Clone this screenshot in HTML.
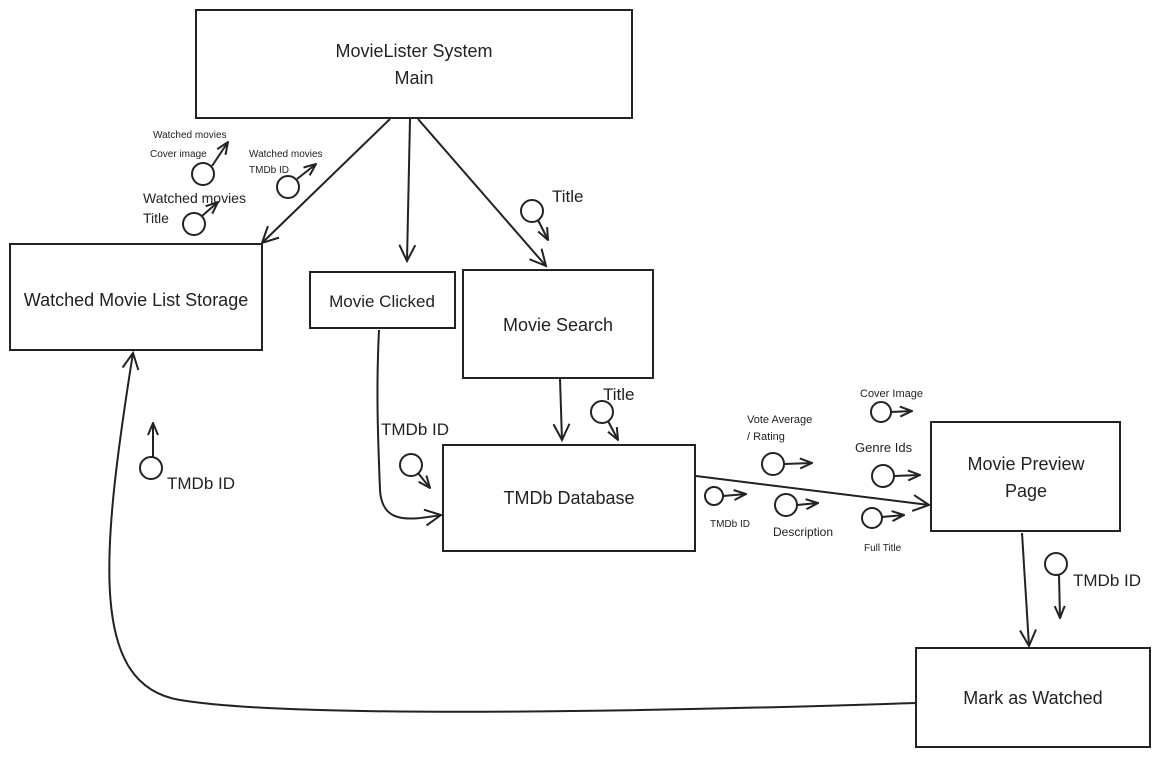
<!DOCTYPE html>
<html><head><meta charset="utf-8"><style>
html,body{margin:0;padding:0;background:#fff;}
svg{display:block;font-family:"Liberation Sans",sans-serif;}
text{fill:#222;}
</style></head><body>
<svg width="1164" height="758" viewBox="0 0 1164 758" xmlns="http://www.w3.org/2000/svg">
<defs>
<marker id="a" viewBox="0 0 20 20" refX="18" refY="10" markerWidth="20" markerHeight="20" markerUnits="userSpaceOnUse" orient="auto">
<path d="M2,2 L18,10 L2,18" fill="none" stroke="#222" stroke-width="2"/></marker>
<marker id="s" viewBox="0 0 14 14" refX="13" refY="7" markerWidth="14" markerHeight="14" markerUnits="userSpaceOnUse" orient="auto">
<path d="M1,2 L13,7 L1,12" fill="none" stroke="#222" stroke-width="2"/></marker>
</defs>
<g fill="none" stroke="#222" stroke-width="2">
<rect x="196" y="10" width="436" height="108"/>
<rect x="10" y="244" width="252" height="106"/>
<rect x="310" y="272" width="145" height="56"/>
<rect x="463" y="270" width="190" height="108"/>
<rect x="443" y="445" width="252" height="106"/>
<rect x="931" y="422" width="189" height="109"/>
<rect x="916" y="648" width="234" height="99"/>
</g>
<g fill="none" stroke="#222" stroke-width="2" marker-end="url(#a)">
<path d="M390,119 L262,243"/>
<path d="M410,119 L407,261"/>
<path d="M418,119 L546,266"/>
<path d="M560,379 L562,440"/>
<path d="M379,330 C376,390 378,440 380,490 C382,525 410,520 441,515"/>
<path d="M696,476 L929,505"/>
<path d="M1022,533 L1029,646"/>
<path d="M916,703 C700,710 300,720 180,700 C90,685 100,560 133,353"/>
</g>
<g fill="none" stroke="#222" stroke-width="2">
<circle cx="203" cy="174" r="11"/><circle cx="288" cy="187" r="11"/>
<circle cx="194" cy="224" r="11"/><circle cx="532" cy="211" r="11"/>
<circle cx="602" cy="412" r="11"/><circle cx="411" cy="465" r="11"/>
<circle cx="151" cy="468" r="11"/><circle cx="1056" cy="564" r="11"/>
<circle cx="773" cy="464" r="11"/><circle cx="714" cy="496" r="9"/>
<circle cx="786" cy="505" r="11"/><circle cx="881" cy="412" r="10"/>
<circle cx="883" cy="476" r="11"/><circle cx="872" cy="518" r="10"/>
</g>
<g fill="none" stroke="#222" stroke-width="2" marker-end="url(#s)">
<path d="M212,166 L228,142"/><path d="M297,179 L316,164"/>
<path d="M202,216 L218,202"/><path d="M538,220 L548,240"/>
<path d="M608,421 L618,440"/><path d="M418,473 L430,488"/>
<path d="M153,457 L153,423"/><path d="M1059,575 L1060,618"/>
<path d="M784,464 L812,463"/><path d="M723,496 L746,494"/>
<path d="M797,505 L818,503"/><path d="M891,412 L912,411"/>
<path d="M894,476 L920,475"/><path d="M882,517 L904,515"/>
</g>
<g font-size="18" text-anchor="middle">
<text x="414" y="57">MovieLister System</text>
<text x="414" y="84">Main</text>
<text x="136" y="306">Watched Movie List Storage</text>
<text x="382" y="307" font-size="17">Movie Clicked</text>
<text x="558" y="331">Movie Search</text>
<text x="569" y="504">TMDb Database</text>
<text x="1026" y="470">Movie Preview</text>
<text x="1026" y="497">Page</text>
<text x="1033" y="704">Mark as Watched</text>
</g>
<g font-size="10">
<text x="153" y="138">Watched movies</text>
<text x="150" y="157">Cover image</text>
<text x="249" y="157">Watched movies</text>
<text x="249" y="173">TMDb ID</text>
<text x="710" y="527">TMDb ID</text>
<text x="864" y="551">Full Title</text>
</g>
<g font-size="14">
<text x="143" y="203">Watched movies</text>
<text x="143" y="223">Title</text>
</g>
<g font-size="17">
<text x="552" y="202">Title</text>
<text x="603" y="400">Title</text>
<text x="381" y="435">TMDb ID</text>
<text x="167" y="489">TMDb ID</text>
<text x="1073" y="586">TMDb ID</text>
</g>
<g font-size="11">
<text x="747" y="423">Vote Average</text>
<text x="747" y="440">/ Rating</text>
<text x="860" y="397">Cover Image</text>
</g>
<text x="773" y="536" font-size="12">Description</text>
<text x="855" y="452" font-size="13">Genre Ids</text>
</svg>
</body></html>
